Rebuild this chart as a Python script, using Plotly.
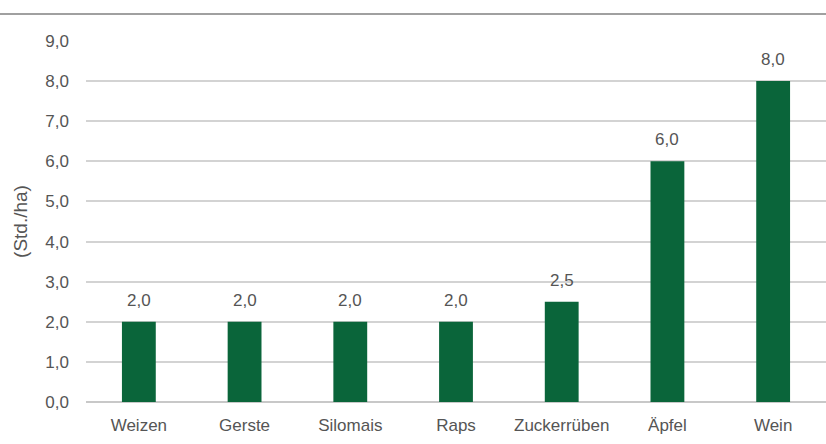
import plotly.graph_objects as go

categories = ["Weizen", "Gerste", "Silomais", "Raps", "Zuckerrüben", "Äpfel", "Wein"]
values = [2.0, 2.0, 2.0, 2.0, 2.5, 6.0, 8.0]
y_ticks = [0, 1, 2, 3, 4, 5, 6, 7, 8, 9]
y_title = "(Std./ha)"

BAR = "#0a653a"
TXT = "#555555"
FONT = "Liberation Sans, Arial, sans-serif"

fig = go.Figure()
fig.add_trace(go.Bar(x=categories, y=values, marker=dict(color=BAR, line=dict(width=0)),
                     width=0.32, hoverinfo="skip"))

for c, v in zip(categories, values):
    fig.add_annotation(x=c, y=v, text=f"{v:.1f}".replace(".", ","), showarrow=False,
                       yanchor="bottom", yshift=10, font=dict(family=FONT, size=17, color=TXT))

fig.add_shape(type="line", xref="paper", yref="paper", x0=-0.2, x1=1.1, y0=1.0748, y1=1.0748,
              line=dict(color="#808080", width=1.5))

fig.update_layout(
    width=826, height=444,
    margin=dict(l=86, r=0, t=41, b=42),
    plot_bgcolor="white", paper_bgcolor="white",
    separators=",.",
    showlegend=False,
    font=dict(family=FONT, size=17, color=TXT),
    xaxis=dict(range=[-0.5, 6.5], showgrid=False, showline=False, zeroline=False,
               ticks="", ticklabelstandoff=11, tickfont=dict(size=17, color=TXT)),
    yaxis=dict(range=[0, 9], tickvals=y_ticks, tickformat=".1f", showgrid=True,
               gridcolor="#d3d3d3", gridwidth=1.5, zeroline=True, zerolinecolor="#c8c8c8",
               zerolinewidth=1.5, showline=False, ticks="", ticklabelstandoff=16,
               tickfont=dict(size=17, color=TXT),
               title=dict(text=y_title, font=dict(size=19, color=TXT), standoff=12)),
)

fig.write_html("out.html")
